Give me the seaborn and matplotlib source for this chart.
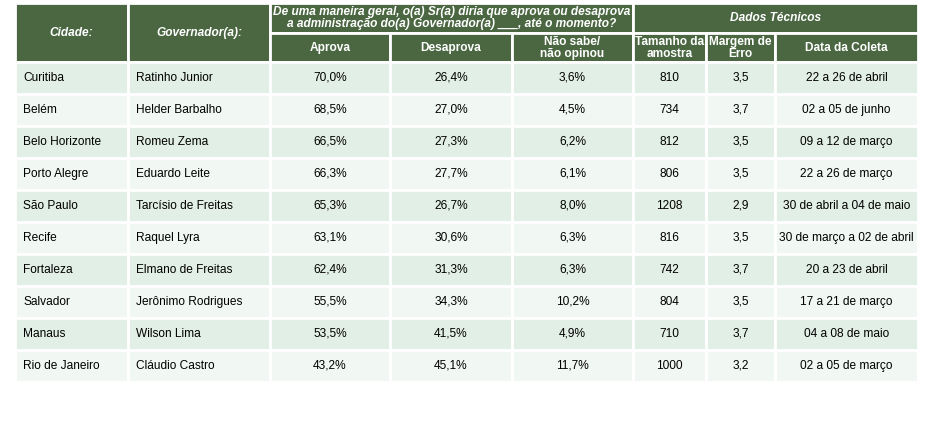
import matplotlib
matplotlib.use("Agg")
import matplotlib.pyplot as plt
import seaborn as sns
from matplotlib.patches import Rectangle

cidades = ["Curitiba","Belém","Belo Horizonte","Porto Alegre","São Paulo","Recife","Fortaleza","Salvador","Manaus","Rio de Janeiro"]
governadores = ["Ratinho Junior","Helder Barbalho","Romeu Zema","Eduardo Leite","Tarcísio de Freitas","Raquel Lyra","Elmano de Freitas","Jerônimo Rodrigues","Wilson Lima","Cláudio Castro"]
aprova = ["70,0%","68,5%","66,5%","66,3%","65,3%","63,1%","62,4%","55,5%","53,5%","43,2%"]
desaprova = ["26,4%","27,0%","27,3%","27,7%","26,7%","30,6%","31,3%","34,3%","41,5%","45,1%"]
nao_sabe = ["3,6%","4,5%","6,2%","6,1%","8,0%","6,3%","6,3%","10,2%","4,9%","11,7%"]
amostra = ["810","734","812","806","1208","816","742","804","710","1000"]
margem = ["3,5","3,7","3,5","3,5","2,9","3,5","3,7","3,5","3,7","3,2"]
datas = ["22 a 26 de abril","02 a 05 de junho","09 a 12 de março","22 a 26 de março","30 de abril a 04 de maio",
         "30 de março a 02 de abril","20 a 23 de abril","17 a 21 de março","04 a 08 de maio","02 a 05 de março"]
pergunta = "De uma maneira geral, o(a) Sr(a) diria que aprova ou desaprova\na administração do(a) Governador(a) ___, até o momento?"
sub_headers = ["Aprova","Desaprova","Não sabe/\nnão opinou","Tamanho da\namostra","Margem de\nErro","Data da Coleta"]

sns.set_theme(style="white")
plt.rcParams['font.family'] = ['Liberation Sans', 'DejaVu Sans']

fig = plt.figure(figsize=(9.31, 4.24), dpi=100)
ax = fig.add_axes([0, 0, 1, 1])
ax.set_xlim(0, 931); ax.set_ylim(424, 0); ax.axis("off")

xs = [15, 128, 270, 390, 512, 633, 706, 775, 918]
hdr = "#4a6741"
fs = 8.6

def cell(x0, x1, y0, y1, color):
    ax.add_patch(Rectangle((x0, y0), x1 - x0, y1 - y0, facecolor=color, edgecolor="white", lw=2))

# header
cell(xs[0], xs[1], 3, 62, hdr); ax.text((xs[0]+xs[1])/2, 33, "Cidade:", color="white", fontsize=fs, fontweight="bold", style="italic", ha="center", va="center")
cell(xs[1], xs[2], 3, 62, hdr); ax.text((xs[1]+xs[2])/2, 33, "Governador(a):", color="white", fontsize=fs, fontweight="bold", style="italic", ha="center", va="center")
cell(xs[2], xs[5], 3, 33, hdr); ax.text((xs[2]+xs[5])/2, 18, pergunta, color="white", fontsize=fs, fontweight="bold", style="italic", ha="center", va="center", linespacing=1.0)
cell(xs[5], xs[8], 3, 33, hdr); ax.text((xs[5]+xs[8])/2, 18, "Dados Técnicos", color="white", fontsize=fs, fontweight="bold", style="italic", ha="center", va="center")
for i, h in enumerate(sub_headers):
    cell(xs[2+i], xs[3+i], 33, 62, hdr)
    ax.text((xs[2+i]+xs[3+i])/2, 48, h, color="white", fontsize=fs, fontweight="bold", ha="center", va="center", linespacing=1.0)

cols = [cidades, governadores, aprova, desaprova, nao_sabe, amostra, margem, datas]
rh = 32
for r in range(len(cidades)):
    y0 = 62 + r * rh
    color = "#e2efe6" if r % 2 == 0 else "#f1f7f3"
    for c, col in enumerate(cols):
        cell(xs[c], xs[c+1], y0, y0 + rh, color)
        if c < 2:
            ax.text(xs[c] + 8, y0 + rh/2, col[r], fontsize=fs, color="black", ha="left", va="center")
        else:
            ax.text((xs[c]+xs[c+1])/2, y0 + rh/2, col[r], fontsize=fs, color="black", ha="center", va="center")

fig.savefig("out.png", dpi=100)
